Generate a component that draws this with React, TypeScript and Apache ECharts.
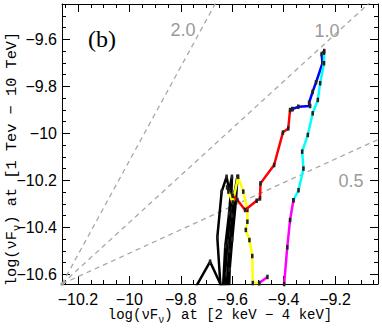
import React, { useEffect, useRef } from 'react';
import * as echarts from 'echarts';

// ---- axis ranges & ticks ----
const X_MIN = -10.262;
const X_MAX = -9.033;
const Y_MIN = -10.641;
const Y_MAX = -9.45;
const xTicks = [-10.2, -10.0, -9.8, -9.6, -9.4, -9.2];
const yTicks = [-10.6, -10.4, -10.2, -10.0, -9.8, -9.6];

// ---- guide lines (slopes through the lower-left corner) ----
const guideOrigin = [-10.262, -10.641];
const guideSlopes = [2.0, 1.0, 0.5];
const guideLabels = ['2.0', '1.0', '0.5'];

// ---- tracks: [x = log F(2-4 keV), y = log F(1-10 TeV)] ----
const blue = [
  [-9.242, -9.650], [-9.252, -9.663], [-9.249, -9.702], [-9.274, -9.783],
  [-9.287, -9.823], [-9.301, -9.870], [-9.297, -9.884], [-9.343, -9.887],
  [-9.366, -9.897],
];
const red = [
  [-9.366, -9.897], [-9.375, -9.901], [-9.382, -9.979], [-9.403, -9.997],
  [-9.437, -10.135], [-9.490, -10.213], [-9.492, -10.277], [-9.505, -10.287],
  [-9.550, -10.326], [-9.580, -10.284], [-9.598, -10.266],
];
const cyan = [
  [-9.243, -9.657], [-9.243, -9.702], [-9.258, -9.787], [-9.267, -9.858],
  [-9.287, -9.915], [-9.306, -10.007], [-9.328, -10.078], [-9.323, -10.150],
  [-9.342, -10.242], [-9.362, -10.285],
];
const magenta = [
  [-9.362, -10.285], [-9.375, -10.369], [-9.386, -10.485], [-9.398, -10.641],
  [-9.402, -10.70],
];
const magentaHook = [
  [-9.495, -10.637], [-9.463, -10.611],
];
const yellow = [
  [-9.615, -10.248], [-9.598, -10.294], [-9.577, -10.185], [-9.557, -10.248],
  [-9.541, -10.326], [-9.541, -10.376], [-9.547, -10.411], [-9.533, -10.454],
  [-9.522, -10.522], [-9.520, -10.637], [-9.495, -10.637],
];
const black1 = [
  [-9.745, -10.66], [-9.686, -10.546], [-9.638, -10.66],
];
const black2 = [
  [-9.645, -10.66], [-9.658, -10.443], [-9.641, -10.248], [-9.622, -10.185],
  [-9.612, -10.24],
];
const black3 = [
  [-9.612, -10.24], [-9.601, -10.185], [-9.605, -10.32], [-9.618, -10.46],
  [-9.628, -10.60], [-9.630, -10.66],
];
const black4 = [
  [-9.622, -10.66], [-9.612, -10.50], [-9.600, -10.35], [-9.590, -10.25],
  [-9.580, -10.185], [-9.585, -10.28], [-9.600, -10.45], [-9.610, -10.58],
  [-9.612, -10.66],
];
const black5 = [
  [-9.636, -10.66], [-9.627, -10.48], [-9.612, -10.34], [-9.606, -10.26],
  [-9.620, -10.23],
];

const tracks: { data: number[][]; color: string }[] = [
  { data: black1, color: '#000000' },
  { data: black2, color: '#000000' },
  { data: black3, color: '#000000' },
  { data: black4, color: '#000000' },
  { data: black5, color: '#000000' },
  { data: yellow, color: '#ffff00' },
  { data: red, color: '#ff0000' },
  { data: blue, color: '#0000ff' },
  { data: cyan, color: '#00ffff' },
  { data: magenta, color: '#ff00ff' },
  { data: magentaHook, color: '#ff00ff' },
];

function minorOf(min: number, max: number, step: number): number[] {
  const out: number[] = [];
  const start = Math.ceil(min / step - 1e-6);
  const end = Math.floor(max / step + 1e-6);
  for (let i = start; i <= end; i++) out.push(Math.round(i * step * 1000) / 1000);
  return out;
}

const fmt = (v: number) => {
  const r = Math.round(v * 10) / 10;
  return (r < 0 ? '\u2212' : '') + String(Math.abs(r));
};

const LABEL_FONT = 'Liberation Sans, Helvetica, Arial, sans-serif';
const TITLE_FONT = 'Liberation Mono, Courier New, monospace';

export default function App() {
  const ref = useRef<HTMLDivElement>(null);

  useEffect(() => {
    if (!ref.current) return;
    const chart = echarts.init(ref.current, undefined, { renderer: 'svg' });

    const xMinor = minorOf(X_MIN, X_MAX, 0.05);
    const yMinor = minorOf(Y_MIN, Y_MAX, 0.05);

    const axisBase = {
      type: 'value' as const,
      splitLine: { show: false },
      axisLine: { show: true, onZero: false, lineStyle: { color: '#000', width: 1 } },
    };

    const xRich = {
      a: { fontFamily: TITLE_FONT, fontSize: 14, color: '#000', lineHeight: 20 },
      s: { fontFamily: TITLE_FONT, fontSize: 10, color: '#000', verticalAlign: 'bottom' as const, lineHeight: 14 },
    };
    const yRich = {
      a: { fontFamily: TITLE_FONT, fontSize: 15.3, color: '#000', lineHeight: 21 },
      s: { fontFamily: TITLE_FONT, fontSize: 11, color: '#000', verticalAlign: 'bottom' as const, lineHeight: 15 },
    };

    const xAxes = [
      {
        ...axisBase, min: X_MIN, max: X_MAX, position: 'bottom',
        axisTick: { show: true, inside: true, length: 8, customValues: xTicks, lineStyle: { color: '#000' } },
        axisLabel: {
          customValues: xTicks, formatter: fmt, fontSize: 16, fontFamily: LABEL_FONT,
          color: '#000', margin: 7, hideOverlap: false,
        },
        name: '{a|log(\u03bdF}{s|\u03bd}{a|) at [2 keV \u2212 4 keV]}',
        nameLocation: 'middle', nameGap: 21, nameMoveOverlap: false,
        nameTextStyle: { color: '#000', fontFamily: TITLE_FONT, fontSize: 14, rich: xRich },
      },
      {
        ...axisBase, min: X_MIN, max: X_MAX, position: 'bottom',
        axisLine: { show: false },
        axisTick: { show: true, inside: true, length: 4, customValues: xMinor, lineStyle: { color: '#000' } },
        axisLabel: { show: false },
      },
      {
        ...axisBase, min: X_MIN, max: X_MAX, position: 'top',
        axisTick: { show: true, inside: true, length: 8, customValues: xTicks, lineStyle: { color: '#000' } },
        axisLabel: { show: false },
      },
      {
        ...axisBase, min: X_MIN, max: X_MAX, position: 'top',
        axisLine: { show: false },
        axisTick: { show: true, inside: true, length: 4, customValues: xMinor, lineStyle: { color: '#000' } },
        axisLabel: { show: false },
      },
    ];

    const yAxes = [
      {
        ...axisBase, min: Y_MIN, max: Y_MAX, position: 'left',
        axisTick: { show: true, inside: true, length: 8, customValues: yTicks, lineStyle: { color: '#000' } },
        axisLabel: {
          customValues: yTicks, formatter: fmt, fontSize: 16, fontFamily: LABEL_FONT,
          color: '#000', margin: 5, hideOverlap: false,
        },
        name: '{a|log(\u03bdF}{s|\u03bd}{a|) at [1 Tev \u2212 10 TeV]}',
        nameLocation: 'middle', nameGap: 40, nameRotate: 90, nameMoveOverlap: false,
        nameTextStyle: {
          color: '#000', fontFamily: TITLE_FONT, fontSize: 15.3, rich: yRich,
          padding: [0, 30, 0, 0],
        },
      },
      {
        ...axisBase, min: Y_MIN, max: Y_MAX, position: 'left',
        axisLine: { show: false },
        axisTick: { show: true, inside: true, length: 4, customValues: yMinor, lineStyle: { color: '#000' } },
        axisLabel: { show: false },
      },
      {
        ...axisBase, min: Y_MIN, max: Y_MAX, position: 'right',
        axisTick: { show: true, inside: true, length: 8, customValues: yTicks, lineStyle: { color: '#000' } },
        axisLabel: { show: false },
      },
      {
        ...axisBase, min: Y_MIN, max: Y_MAX, position: 'right',
        axisLine: { show: false },
        axisTick: { show: true, inside: true, length: 4, customValues: yMinor, lineStyle: { color: '#000' } },
        axisLabel: { show: false },
      },
    ];

    const guideSeries = guideSlopes.map((s) => ({
      type: 'line' as const,
      xAxisIndex: 0, yAxisIndex: 0,
      data: [guideOrigin, [X_MAX, guideOrigin[1] + s * (X_MAX - guideOrigin[0])]],
      showSymbol: false, symbol: 'none',
      clip: true, silent: true, z: 1,
      lineStyle: { color: '#a8a8a8', width: 1.3, type: [5, 4] as number[] },
    }));

    const trackSeries = tracks.map((t, i) => ({
      type: 'line' as const,
      xAxisIndex: 0, yAxisIndex: 0,
      data: t.data,
      clip: true, z: 3 + i,
      symbol: 'rect', symbolSize: [2.5, 4.5], showSymbol: true,
      itemStyle: { color: '#222' },
      lineStyle: { color: t.color, width: 2.5 },
    }));

    const originDot = {
      type: 'scatter' as const,
      xAxisIndex: 0, yAxisIndex: 0,
      data: [guideOrigin],
      symbol: 'circle', symbolSize: 4, clip: false, z: 2,
      itemStyle: { color: '#a8a8a8' },
    };

    chart.setOption({
      animation: false,
      backgroundColor: '#ffffff',
      grid: { left: 62, right: 4, top: 4, bottom: 45, containLabel: false, outerBoundsMode: 'none' },
      xAxis: xAxes,
      yAxis: yAxes,
      series: [...guideSeries, originDot, ...trackSeries],
      graphic: [
        {
          type: 'text', left: 88, top: 27, z: 20,
          style: { text: '(b)', fontSize: 24, fontFamily: 'Liberation Serif, Times New Roman, serif', fill: '#000' },
        },
        {
          type: 'text', x: 183, y: 30, z: 20,
          style: { text: guideLabels[0], fontSize: 18, fontFamily: LABEL_FONT, fill: '#9a9a9a', textAlign: 'center', textVerticalAlign: 'middle' },
        },
        {
          type: 'text', x: 327, y: 31, z: 20,
          style: { text: guideLabels[1], fontSize: 18, fontFamily: LABEL_FONT, fill: '#9a9a9a', textAlign: 'center', textVerticalAlign: 'middle' },
        },
        {
          type: 'text', x: 351, y: 181, z: 20,
          style: { text: guideLabels[2], fontSize: 18, fontFamily: LABEL_FONT, fill: '#9a9a9a', textAlign: 'center', textVerticalAlign: 'middle' },
        },
      ],
    });

    return () => chart.dispose();
  }, []);

  return (
    <div
      ref={ref}
      style={{ position: 'fixed', left: 0, top: 0, width: 382, height: 329, background: '#fff' }}
    />
  );
}
